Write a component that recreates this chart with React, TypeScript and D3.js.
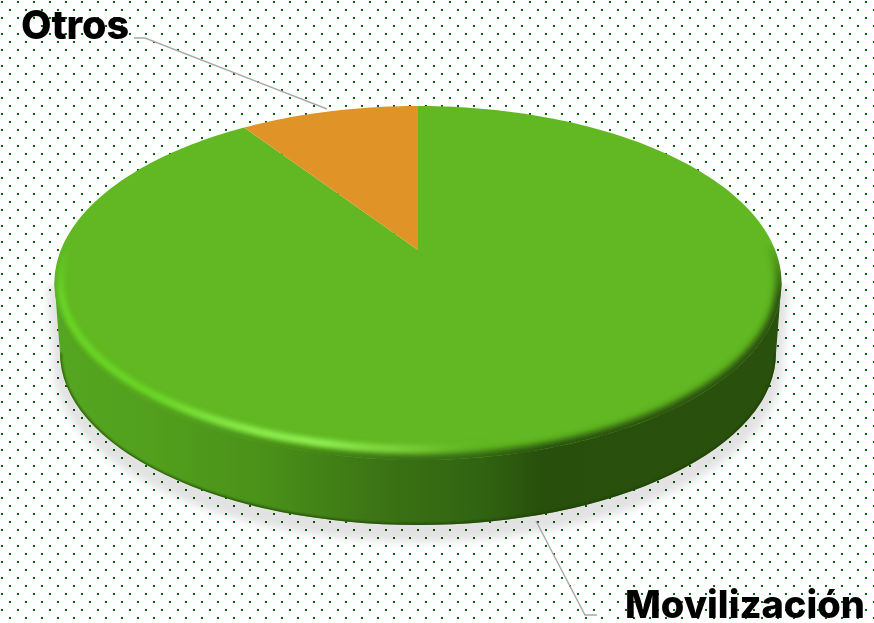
import * as d3 from 'd3';

const labels = ['Movilización', 'Otros'];
const values = [90.5, 9.5];
const colors = ['#61b822', '#e09327'];

// wall shading, left to right
const wallStops: [number, string][] = [
  [0, '#55a620'], [0.13, '#52a01e'], [0.28, '#4a9219'], [0.47, '#3a7014'], [0.585, '#316412'],
  [0.67, '#284f0c'], [1, '#2a500d'],
];
// bright line just inside the edge of the top face
const glowStops: [number, string, number][] = [
  [0, '#6ad826', 1], [0.13, '#6ad826', 1], [0.26, '#8ef04e', 1], [0.37, '#96f558', 1],
  [0.5, '#7ad038', 0.85], [0.6, '#61b822', 0], [1, '#61b822', 0],
];

const W = 874;
const H = 623;
const cx = 418;
const cy = 283;
const rx = 363.5;
const ry = 177;
const apexY = 250;

// perspective tilt: disc centre sits above the middle of the ellipse
const tilt = (apexY - cy) / ry;
const kx = rx * Math.sqrt(1 - tilt * tilt);
const project = (a: number): [number, number] => {
  const u = Math.sin(a);
  const v = -Math.cos(a);
  const w = 1 + tilt * v;
  return [cx + (kx * u) / w, cy + (ry * v + tilt * ry) / w];
};

const pieGen = d3.pie<number>().sort(null).startAngle(0).endAngle(Math.PI * 2);
// first slice runs clockwise from 12 o'clock, Otros closes the circle
const arcs = pieGen(values);
const line = d3.line();

const slicePath = (start: number, end: number) => {
  const n = Math.ceil((end - start) / 0.02);
  const pts = d3.range(n + 1).map((i) => project(start + ((end - start) * i) / n));
  return line([[cx, apexY], ...pts]) + 'Z';
};

const botCy = 353;
const botRx = 358;
const botRy = 172;
const bottomArc = `M${cx - botRx},${botCy} A${botRx},${botRy} 0 0 0 ${cx + botRx},${botCy}`;
const wallPath =
  `M${cx - rx},${cy} L${cx - botRx},${botCy} A${botRx},${botRy} 0 0 0 ${cx + botRx},${botCy} ` +
  `L${cx + rx},${cy} Z`;

export default function App() {
  return (
    <svg width={W} height={H} style={{ position: 'absolute', left: 0, top: 0 }}>
      <defs>
        <pattern id="dots" width={16} height={16} patternUnits="userSpaceOnUse">
          <rect x={1} y={1} width={2} height={2} fill="#006a00" />
          <rect x={9} y={9} width={2} height={2} fill="#006a00" />
        </pattern>
        <linearGradient id="wall" gradientUnits="userSpaceOnUse" x1={cx - rx} x2={cx + rx} y1={0} y2={0}>
          {wallStops.map(([o, c]) => <stop key={o} offset={o} stopColor={c} />)}
        </linearGradient>
        <linearGradient id="glow" gradientUnits="userSpaceOnUse" x1={cx - rx} x2={cx + rx} y1={0} y2={0}>
          {glowStops.map(([o, c, a]) => <stop key={o} offset={o} stopColor={c} stopOpacity={a} />)}
        </linearGradient>
        <linearGradient id="fadeDown" gradientUnits="userSpaceOnUse" x1={0} x2={0} y1={cy - 40} y2={cy + 15}>
          <stop offset={0} stopColor="#000" />
          <stop offset={1} stopColor="#fff" />
        </linearGradient>
        <mask id="lowerMask" maskUnits="userSpaceOnUse" x={0} y={0} width={W} height={H}>
          <rect width={W} height={H} fill="url(#fadeDown)" />
        </mask>
        <filter id="blurShadow" x="-10%" y="-10%" width="120%" height="120%">
          <feGaussianBlur stdDeviation={4} />
        </filter>
        <filter id="blurEdge" x="-10%" y="-10%" width="120%" height="120%">
          <feGaussianBlur stdDeviation={3} />
        </filter>
        <filter id="blurGlow" x="-10%" y="-10%" width="120%" height="120%">
          <feGaussianBlur stdDeviation={2.4} />
        </filter>
        <filter id="blurLine" x="-10%" y="-10%" width="120%" height="120%">
          <feGaussianBlur stdDeviation={1} />
        </filter>
        <clipPath id="topClip">
          <ellipse cx={cx} cy={cy} rx={rx} ry={ry} />
        </clipPath>
        <clipPath id="wallClip">
          <path d={wallPath} />
        </clipPath>
      </defs>
      <rect width={W} height={H} fill="#fff" />
      <rect width={W} height={H} fill="url(#dots)" />

      {/* soft shadow under the disc */}
      <path
        d={wallPath}
        transform="translate(0,10)"
        fill="#e2e2e2"
        stroke="#e2e2e2"
        strokeWidth={14}
        filter="url(#blurShadow)"
        style={{ mixBlendMode: 'multiply' }}
      />

      <path d={wallPath} fill="url(#wall)" />
      <g clipPath="url(#wallClip)">
        <path d={bottomArc} fill="none" stroke="#1c3c08" strokeOpacity={0.7} strokeWidth={3} filter="url(#blurLine)" />
      </g>

      {arcs.map((d, i) => (
        <path key={labels[i]} d={slicePath(d.startAngle, d.endAngle)} fill={colors[i]} />
      ))}

      <g clipPath="url(#topClip)">
        <g mask="url(#lowerMask)">
          <ellipse cx={cx} cy={cy} rx={rx} ry={ry} fill="none" stroke="url(#wall)" strokeWidth={12} filter="url(#blurEdge)" />
          <ellipse cx={cx} cy={cy} rx={rx - 6} ry={ry - 11} fill="none" stroke="url(#glow)" strokeWidth={7} filter="url(#blurGlow)" />
        </g>
      </g>

      <polyline points="134,38 145,38 327,109" fill="none" stroke="#a8a8a8" strokeWidth={1.4} />
      <polyline points="536,521 585,615 597,615" fill="none" stroke="#a8a8a8" strokeWidth={1.4} />

      <g fontFamily="Inter, sans-serif" fontWeight={800} fill="#000">
        <text x={21} y={39} fontSize={39.5}>{labels[1]}</text>
        <text x={625} y={618} fontSize={38}>{labels[0]}</text>
      </g>
    </svg>
  );
}
